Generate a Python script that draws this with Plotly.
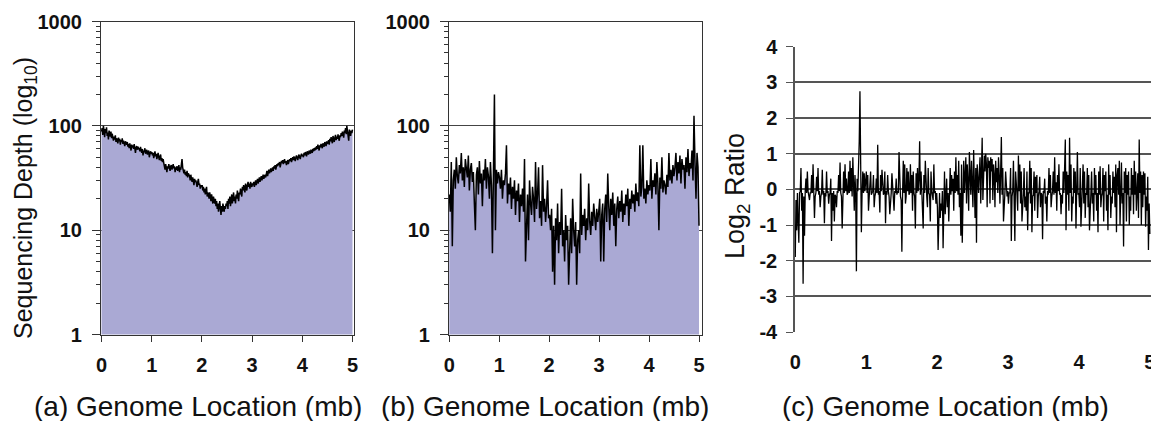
import numpy as np
import plotly.graph_objects as go

# ---------------- data ----------------
depth_a = [
    88, 95, 82, 100, 90, 78, 93, 85, 97, 80, 86, 74, 90, 83, 79, 88, 76, 84, 80, 72,
    79, 74, 81, 70, 76, 73, 68, 77, 71, 75, 66, 73, 70, 76, 67, 72, 69, 64, 71, 68,
    66, 70, 63, 67, 61, 68, 64, 58, 66, 62, 65, 60, 67, 63, 55, 62, 64, 59, 63, 60,
    61, 57, 63, 58, 55, 60, 52, 58, 56, 61, 54, 57, 59, 53, 56, 58, 50, 55, 57, 54,
    56, 52, 55, 49, 53, 57, 51, 54, 48, 52, 55, 50, 47, 51, 53, 46, 49, 45, 48, 44,
    42, 38, 43, 40, 36, 41, 39, 43, 40, 37, 41, 42, 38, 40, 43, 39, 41, 36, 40, 38,
    41, 37, 39, 42, 36, 40, 38, 43, 48, 40, 37, 35, 38, 34, 36, 33, 37, 32, 35, 34,
    33, 30, 34, 31, 29, 32, 30, 27, 31, 29, 30, 28, 26, 29, 31, 27, 28, 25, 27, 26,
    27, 24, 26, 23, 25, 22, 24, 26, 21, 23, 22, 20, 23, 21, 19, 22, 20, 18, 21, 19,
    18, 20, 17, 19, 16, 18, 15, 17, 19, 16, 14, 17, 15, 18, 16, 15, 17, 16, 18, 17,
    19, 16, 20, 18, 21, 17, 19, 22, 18, 20, 23, 19, 21, 18, 22, 20, 24, 21, 19, 23,
    22, 25, 23, 21, 26, 24, 27, 25, 23, 28, 26, 24, 27, 29, 26, 28, 25, 29, 27, 26,
    28, 27, 29, 26, 28, 30, 27, 29, 31, 28, 30, 32, 29, 31, 33, 30, 32, 34, 31, 33,
    34, 32, 35, 37, 33, 36, 38, 35, 37, 39, 36, 38, 40, 37, 41, 39, 42, 38, 40, 43,
    41, 44, 42, 45, 40, 43, 46, 44, 47, 43, 45, 48, 44, 46, 42, 45, 47, 43, 46, 48,
    46, 49, 45, 48, 50, 47, 51, 48, 46, 50, 52, 49, 47, 51, 53, 50, 48, 52, 54, 51,
    53, 50, 55, 52, 56, 54, 51, 57, 55, 53, 58, 56, 54, 59, 57, 55, 60, 57, 61, 58,
    62, 59, 64, 60, 66, 63, 58, 65, 62, 67, 64, 61, 68, 65, 63, 70, 66, 64, 71, 67,
    69, 73, 66, 75, 71, 78, 72, 68, 80, 74, 70, 77, 82, 73, 79, 75, 83, 76, 72, 81,
    78, 85, 80, 88, 82, 77, 90, 86, 95, 83, 100, 88, 84, 72, 92, 87, 80, 90, 85, 92,
]

depth_b = [
    22, 15, 45, 7, 30, 38, 25, 50, 33, 28, 42, 35, 55, 30, 40, 26, 48, 36, 32, 52, 24, 38, 44, 29, 36,
    18, 10, 34, 40, 22, 46, 28, 35, 17, 38, 30, 48, 25, 40, 33, 20, 45, 27, 6, 30, 200, 10, 38, 28, 36,
    32, 25, 38, 20, 30, 27, 35, 65, 18, 28, 22, 32, 16, 26, 20, 30, 14, 24, 19, 28, 12, 22, 17, 25, 15,
    48, 5, 9, 22, 8, 30, 18, 14, 26, 20, 12, 45, 16, 22, 40, 13, 19, 11, 42, 15, 20, 12, 17, 30, 13,
    14, 10, 16, 4, 11, 3, 13, 8, 18, 6, 12, 9, 25, 7, 10, 5, 14, 8, 11, 3, 9, 13, 6, 20, 10,
    7, 12, 3, 8, 10, 6, 35, 9, 14, 11, 16, 8, 13, 10, 28, 12, 9, 15, 11, 18, 13, 10, 16, 12, 15,
    20, 5, 14, 18, 5, 16, 22, 12, 35, 17, 10, 20, 14, 23, 11, 18, 7, 16, 21, 13, 19, 15, 24, 12, 18,
    14, 22, 17, 25, 11, 20, 16, 24, 18, 22, 15, 28, 19, 23, 17, 65, 21, 26, 65, 20, 25, 18, 30, 22, 27,
    24, 48, 20, 30, 26, 35, 22, 45, 28, 10, 32, 25, 50, 23, 30, 27, 22, 34, 26, 55, 30, 38, 28, 42, 33,
    40, 55, 30, 45, 35, 52, 28, 48, 38, 42, 25, 50, 36, 60, 33, 44, 39, 58, 30, 125, 45, 20, 55, 40, 11,
]

ratio_c = [
    -1.9, -0.3, -1.15, -0.1, -0.9, -1.5, -0.1, -0.05, 0.6, -0.6, -0.1, -2.65, -0.2, -1.3, -0.05, 0.3, -0.1, 0.5, -0.05, -0.2, -0.3, -0.1, -0.1, 0.4, -0.1,
    0.7, -0.05, -0.8, -0.2, -0.1, 0.35, -0.05, 0.6, -0.15, -0.05, -0.5, -0.2, -0.1, 0.55, -0.15, -0.05, -0.95, -0.1, -0.2, 0.5, -0.1, -0.05, -0.4, -0.15, -0.1,
    0.3, -1.45, -0.1, -0.6, -0.05, -0.9, -0.15, -0.2, -0.5, -0.05, -0.1, 0.4, -0.05, 0.75, -0.1, -0.2, -1.1, -0.05, 0.5, -0.1, 0.7, -0.05, 0.3, -0.15, -0.1,
    0.5, -0.1, 0.8, -0.05, 0.6, -0.2, 0.9, -0.1, -0.6, 0.4, -0.1, -2.3, 0.3, -0.05, 0.5, 1.35, 2.75, 0.4, -1.2, -0.1, 0.5, -0.1, 0.45, -0.05, 0.3,
    0.5, -0.1, 0.4, -0.6, -0.2, -0.05, 0.5, -0.15, -0.1, -0.05, 0.4, -0.5, -0.2, -0.1, 0.3, -0.1, 1.25, -0.15, -0.05, -0.65, 0.4, -0.05, 0.55, -0.1, -0.15,
    -0.1, 0.5, -0.95, -0.05, -0.15, 0.4, -0.05, -0.2, -0.7, -0.1, -0.1, 0.45, -0.05, -0.2, -0.6, -0.05, -0.1, 0.3, -0.15, -0.05, -0.1, 1.05, -0.05, -0.2, -0.3,
    -1.75, -0.1, 0.8, -0.1, 0.7, -0.4, -0.2, 0.6, -0.05, 0.5, -0.15, -0.1, 0.7, -0.1, 0.4, -0.6, 0.5, -0.1, -0.2, -1.1, 0.45, -0.1, 0.6, -0.05, 0.3,
    1.35, -0.15, 0.5, -0.1, -0.2, -1.1, 0.4, -0.1, 0.8, -0.05, -0.2, -0.5, 0.6, -0.1, -0.15, -0.9, 0.5, -0.05, -0.15, -0.3, 0.7, -0.1, -0.05, -0.4, -0.1,
    -0.5, -1.7, -0.2, -0.1, -0.8, -0.4, -0.6, -0.05, -1.65, -0.2, 0.5, -0.7, -0.1, 0.3, -0.5, -0.1, -0.9, -0.05, 0.6, -0.15, 0.4, -0.05, 0.3, -0.6, 0.5,
    -0.1, 0.9, -0.05, 0.4, -0.15, 0.8, -0.5, -0.1, -1.3, 0.7, -1.5, 0.3, 0.8, -0.1, 0.6, 0.9, -0.4, 0.7, 0.2, -0.6, 1.05, 0.4, -0.15, 0.8, -0.1,
    -0.5, 1.1, 0.4, -0.8, 0.6, -1.5, 0.7, 0.3, -0.1, 0.5, 0.9, -0.4, 0.6, 1.45, -0.3, 0.8, 0.95, 0.5, 1.0, 0.7, -0.5, 0.9, 0.6, 0.8, -0.4,
    0.9, 0.5, 0.85, -0.3, 0.7, 0.4, -0.5, 0.8, 0.2, 0.6, -0.1, 0.9, 0.4, -0.4, 0.5, 1.47, -0.15, 0.6, -0.9, -0.1, -0.1, 0.5, -0.15, -0.2, -0.05,
    -0.4, -0.1, -0.1, 0.6, -1.45, -0.2, -0.05, 0.8, -0.15, -1.45, 0.5, -0.1, -0.15, -0.6, 0.95, -0.05, 0.7, -0.4, 0.5, -0.9, -0.1, -0.1, 0.6, -0.5, -0.2,
    -0.6, 0.5, -1.15, -0.1, -0.1, 0.8, -0.4, 0.6, -1.2, -0.2, -0.15, 0.5, -0.6, 0.35, -0.1, 0.4, -0.8, -0.2, -0.05, 0.35, -0.5, -0.1, -0.15, -1.4, -0.05,
    -0.1, 0.3, -0.4, -0.2, -0.9, -0.05, -0.15, 0.6, -0.1, 0.4, -0.5, -0.2, -0.05, 0.5, -0.15, 0.9, -0.1, 0.2, -0.6, 0.4, -0.05, 0.7, -0.15, -0.1, -0.7,
    -0.15, -0.4, 0.5, -0.1, 0.6, 1.4, -1.15, 0.5, -0.15, 0.4, -0.6, 1.45, -0.1, 0.7, -0.9, -0.2, -0.4, 0.6, -0.1, 0.5, -1.1, 0.4, 1.05, -0.15, -0.1,
    -0.5, 0.6, -1.05, -0.2, -0.1, 0.7, -0.4, 0.5, -0.8, -0.1, -0.15, 0.6, -0.5, 0.4, -1.15, -0.2, -0.1, 0.5, -0.4, -0.1, -0.9, 0.6, -0.15, 0.4, -0.6,
    -0.1, -1.2, 0.5, -0.15, 0.65, -0.5, -0.2, -0.1, 0.6, -0.9, 0.4, -0.05, 0.5, -0.6, -0.15, -1.15, 0.7, -0.15, 0.4, -0.8, -0.2, -0.4, 0.5, -0.1, 0.35,
    -0.5, 0.7, -1.2, 0.4, 0.6, -0.15, 0.8, -1.0, 0.5, 0.75, -0.4, -0.1, -1.6, 0.5, -0.1, 0.6, -0.9, 0.4, -0.15, 0.5, -1.0, -0.2, -0.6, 0.6, -0.15,
    0.4, -0.7, 0.8, -0.15, 0.5, -0.6, -0.1, 0.45, -0.8, 1.4, -0.1, 0.5, -1.0, 0.4, -0.5, 0.5, -0.15, 0.45, -1.05, -0.2, -0.6, 0.35, -1.7, -0.4, -1.25,
]

genome_start_mb, genome_end_mb = 0.0, 5.0
x_a = np.linspace(genome_start_mb, genome_end_mb, len(depth_a))
x_b = np.linspace(genome_start_mb, genome_end_mb, len(depth_b))
x_c = np.linspace(genome_start_mb, genome_end_mb, len(ratio_c))

x_ticks = [0, 1, 2, 3, 4, 5]
log_ticks = [1, 10, 100, 1000]
log_minor = [k * d for d in (1, 10, 100) for k in range(2, 10)]
ratio_ticks = [-4, -3, -2, -1, 0, 1, 2, 3, 4]

titles = ["(a) Genome Location (mb)", "(b) Genome Location (mb)", "(c) Genome Location (mb)"]

# ---------------- figure ----------------
# the page body has an 8px margin, so the figure is drawn 8px smaller and
# all reference pixel positions are shifted by that offset
PAGE_OFF = 8
W, H = 1159 - PAGE_OFF, 421 - PAGE_OFF
FONT = "Liberation Sans, Arial, sans-serif"
FILL = "#aaa9d4"

fig = go.Figure()
fig.add_trace(go.Scatter(x=x_a, y=depth_a, mode="lines", fill="tozeroy", fillcolor=FILL,
                         line=dict(color="black", width=1.5), xaxis="x", yaxis="y", showlegend=False))
fig.add_trace(go.Scatter(x=x_b, y=depth_b, mode="lines", fill="tozeroy", fillcolor=FILL,
                         line=dict(color="black", width=1.5), xaxis="x2", yaxis="y2", showlegend=False))
fig.add_trace(go.Scatter(x=x_c, y=ratio_c, mode="lines",
                         line=dict(color="black", width=1.3), xaxis="x3", yaxis="y3", showlegend=False))

def px_x(p):
    return (p - PAGE_OFF) / W

def px_y(p):
    return 1 - (p - PAGE_OFF) / H

tick_font = dict(family=FONT, size=20, color="#111", weight="bold")

def log_y(anchor, domain):
    return dict(type="log", range=[0, 3], domain=domain, anchor=anchor, automargin=False,
                tickvals=log_ticks, ticktext=[str(v) for v in log_ticks],
                ticks="outside", ticklen=8, tickcolor="#333", tickfont=tick_font,
                ticklabelstandoff=6,
                showline=True, linecolor="#333", linewidth=1.2, mirror=True,
                showgrid=True, gridcolor="#444", gridwidth=1,
                minor=dict(tickvals=log_minor, ticks="outside", ticklen=4, tickcolor="#333", showgrid=False),
                zeroline=False, fixedrange=True)

def lin_x(anchor, domain, rng):
    return dict(range=rng, domain=domain, anchor=anchor, automargin=False, tickvals=x_ticks,
                ticks="outside", ticklen=6, tickcolor="#333", tickfont=tick_font,
                ticklabelstandoff=6,
                showline=True, linecolor="#333", linewidth=1.2, mirror=True,
                showgrid=False, zeroline=False, fixedrange=True)

ydom_ab = [px_y(334.5), px_y(21.5)]

fig.update_layout(
    width=W, height=H, margin=dict(l=0, r=0, t=0, b=0, autoexpand=False),
    paper_bgcolor="white", plot_bgcolor="white",
    font=dict(family=FONT, color="#111"),
    xaxis=lin_x("y", [px_x(101), px_x(354)], [-0.01, 5.03]),
    yaxis=log_y("x", ydom_ab),
    xaxis2=lin_x("y2", [px_x(449), px_x(702)], [-0.006, 5.06]),
    yaxis2=log_y("x2", ydom_ab),
    xaxis3=dict(range=[-0.004, 5.03], domain=[px_x(795), px_x(1152)], anchor="y3", automargin=False,
                tickvals=x_ticks, ticks="", tickfont=tick_font, ticklabelstandoff=16, showline=False,
                showgrid=False, zeroline=False, fixedrange=True),
    yaxis3=dict(range=[-4, 4], domain=[px_y(332), px_y(46.7)], anchor="x3", automargin=False,
                tickvals=ratio_ticks, ticktext=[str(v) for v in ratio_ticks],
                ticks="outside", ticklen=7, tickcolor="#555", tickfont=tick_font,
                ticklabelstandoff=5,
                showline=True, linecolor="#555", linewidth=1.5,
                showgrid=True, gridcolor="#555", gridwidth=1.5,
                zeroline=False, fixedrange=True),
)

title_font = dict(family=FONT, size=28, color="#111")
annotations = [
    dict(text=titles[0], x=px_x(198), y=px_y(406), xref="paper", yref="paper",
         showarrow=False, font=title_font, xanchor="center", yanchor="middle"),
    dict(text=titles[1], x=px_x(545), y=px_y(406), xref="paper", yref="paper",
         showarrow=False, font=title_font, xanchor="center", yanchor="middle"),
    dict(text=titles[2], x=px_x(945), y=px_y(406), xref="paper", yref="paper",
         showarrow=False, font=title_font, xanchor="center", yanchor="middle"),
    dict(text="Sequencing Depth (log<sub>10</sub>)", x=px_x(25), y=px_y(198), xref="paper", yref="paper",
         showarrow=False, font=dict(family=FONT, size=25, color="#111"), textangle=-90,
         xanchor="center", yanchor="middle"),
    dict(text="Log<sub>2</sub> Ratio", x=px_x(737), y=px_y(196), xref="paper", yref="paper",
         showarrow=False, font=dict(family=FONT, size=27, color="#111"), textangle=-90,
         xanchor="center", yanchor="middle"),
]
fig.update_layout(annotations=annotations)

fig.write_html("out.html")
